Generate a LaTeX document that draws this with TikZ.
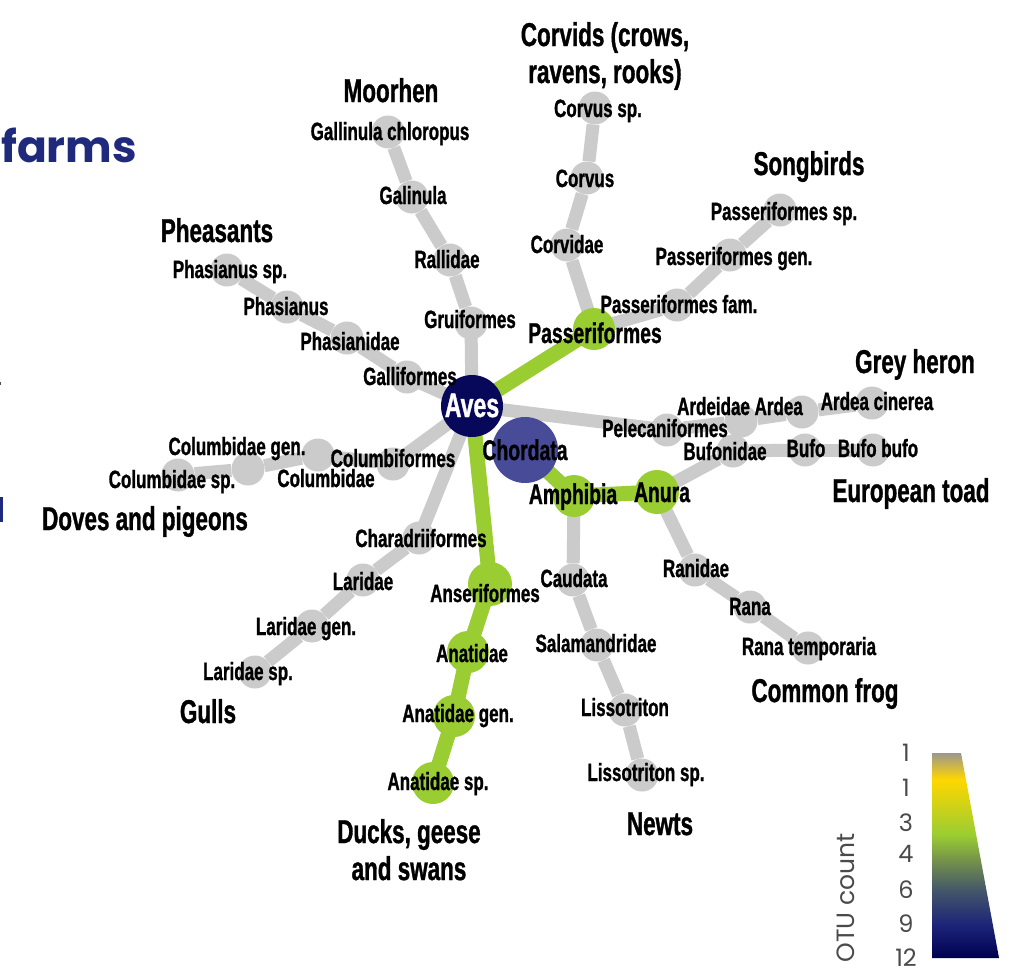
\documentclass[tikz,border=0pt]{standalone}
\usepackage{fontspec}
\newfontfamily\labfont{Liberation Sans}[FakeStretch=0.68, FakeBold=1]
\newfontfamily\headfont{Poppins}

\definecolor{edgegrey}{HTML}{CBCBCB}
\definecolor{leaf}{HTML}{9ACD32}
\definecolor{avesblue}{HTML}{08085A}
\definecolor{chordblue}{HTML}{484C98}
\definecolor{farmblue}{HTML}{1F2A7C}
\definecolor{legtext}{HTML}{4A4A4A}
% colour ramp of the OTU count scale
\definecolor{cA}{HTML}{9C978E}
\definecolor{cB}{HTML}{FFD700}
\definecolor{cC}{HTML}{9ACD32}
\definecolor{cD}{HTML}{76934A}
\definecolor{cE}{HTML}{43566A}
\definecolor{cF}{HTML}{1C2478}
\definecolor{cG}{HTML}{000050}
\pgfdeclareverticalshading{otuscale}{100bp}{color(0bp)=(cG); color(25bp)=(cG); color(33bp)=(cF); color(41.5bp)=(cE); color(49bp)=(cD); color(55bp)=(cC); color(68.5bp)=(cB); color(75bp)=(cA); color(100bp)=(cA)}

% connectors go on a layer under the discs
\pgfdeclarelayer{edges}
\pgfsetlayers{edges,main}

\tikzset{
  greydisc/.style={circle, fill=edgegrey, inner sep=0pt, minimum size=33pt},
  greendisc/.style={circle, fill=leaf, inner sep=0pt, minimum size=42pt},
  gedge/.style={draw=edgegrey, line width=13pt},
  ledge/.style={draw=leaf, line width=15pt},
  lab/.style={anchor=base, inner sep=0pt, font=\labfont\bfseries\fontsize{25}{25}\selectfont},
  midlab/.style={lab, font=\labfont\bfseries\fontsize{28.5}{28.5}\selectfont},
  grouplab/.style={anchor=base, inner sep=0pt, align=center, font=\labfont\bfseries\fontsize{33}{37}\selectfont},
  legnum/.style={anchor=center, inner sep=0pt, text=legtext, font=\headfont\fontsize{24}{24}\selectfont},
}

\begin{document}
\begin{tikzpicture}[x=1pt,y=-1pt]
\useasboundingbox (0,0) rectangle (1035,978);
\begin{pgfonlayer}{edges}
\fill[white] (0,0) rectangle (1035,978);
\end{pgfonlayer}

% fragments of the page heading at the left edge
\node[anchor=base west, inner sep=0pt, text=farmblue, font=\headfont\bfseries\fontsize{44}{44}\selectfont] (heading) at (1,162) {farms};
\fill[farmblue] (0,497) rectangle (2.5,522);
\fill[black!70] (0,382) rectangle (1.2,385);

% ---------- discs ----------
\node[circle, fill=chordblue, inner sep=0pt, minimum size=66pt] (chordata) at (525,450) {};
\node[greendisc] (amphibia) at (574,496) {};
\node[greendisc, minimum size=44pt] (anura) at (657,492) {};
\node[greendisc] (passeriformes) at (594,329) {};
\node[greendisc, minimum size=44pt] (anseriformes) at (490,584) {};
\node[greendisc] (anatidae) at (468,652) {};
\node[greendisc] (anatidaegen) at (454,716) {};
\node[greendisc] (anatidaesp) at (433,783) {};

\node[greydisc] (gruiformes) at (471,323) {};
\node[greydisc] (rallidae) at (450,260) {};
\node[greydisc] (galinula) at (412,197) {};
\node[greydisc] (gchloropus) at (388,132) {};

\node[greydisc] (galliformes) at (407,377) {};
\node[greydisc] (phasianidae) at (347,338) {};
\node[greydisc] (phasianus) at (287,307) {};
\node[greydisc] (phasianussp) at (227,270) {};

\node[greydisc] (columbiformes) at (393,464) {};
\node[greydisc] (columbidae) at (318,455) {};
\node[greydisc] (columbidaegen) at (248,469) {};
\node[greydisc] (columbidaesp) at (178,475) {};

\node[greydisc] (charadriiformes) at (419,538) {};
\node[greydisc] (laridae) at (363,580) {};
\node[greydisc] (laridaegen) at (312,626) {};
\node[greydisc] (laridaesp) at (255,672) {};

\node[greydisc] (corvidae) at (567,245) {};
\node[greydisc] (corvus) at (587,178) {};
\node[greydisc] (corvussp) at (595,108) {};

\node[greydisc] (passfam) at (677,305) {};
\node[greydisc] (passgen) at (730,255) {};
\node[greydisc] (passsp) at (780,210) {};

\node[greydisc] (pelecaniformes) at (667,430) {};
\node[greydisc] (ardeidae) at (741,421) {};
\node[greydisc] (ardea) at (802,412) {};
\node[greydisc] (ardeacinerea) at (872,403) {};

\node[greydisc] (bufonidae) at (733,451) {};
\node[greydisc] (bufo) at (805,450) {};
\node[greydisc] (bufobufo) at (873,450) {};

\node[greydisc] (ranidae) at (695,570) {};
\node[greydisc] (rana) at (750,607) {};
\node[greydisc] (ranatemporaria) at (808,648) {};

\node[greydisc] (caudata) at (573,580) {};
\node[greydisc] (salamandridae) at (597,645) {};
\node[greydisc] (lissotriton) at (625,710) {};
\node[greydisc] (lissotritonsp) at (642,775) {};

\node[circle, fill=avesblue, inner sep=0pt, minimum size=62pt] (aves) at (472,406) {};

% ---------- connectors (behind the discs) ----------
\begin{pgfonlayer}{edges}
  % birds
  \draw[ledge] (aves.center) -- (passeriformes.center);
  \draw[ledge] (aves.center) -- (anseriformes.center);
  \draw[ledge] (anseriformes.center) -- (anatidae.center);
  \draw[ledge] (anatidae.center) -- (anatidaegen.center);
  \draw[ledge] (anatidaegen.center) -- (anatidaesp.center);
  \draw[gedge] (aves.center) -- (gruiformes.center);
  \draw[gedge] (gruiformes) -- (rallidae);
  \draw[gedge] (rallidae) -- (galinula);
  \draw[gedge] (galinula) -- (gchloropus);
  \draw[gedge] (aves.center) -- (galliformes.center);
  \draw[gedge] (galliformes) -- (phasianidae);
  \draw[gedge] (phasianidae) -- (phasianus);
  \draw[gedge] (phasianus) -- (phasianussp);
  \draw[gedge] (aves.center) -- (columbiformes.center);
  \draw[gedge] (columbiformes) -- (columbidae);
  \draw[gedge] (columbidae) -- (columbidaegen);
  \draw[gedge] (columbidaegen) -- (columbidaesp);
  \draw[gedge] (aves.center) -- (charadriiformes.center);
  \draw[gedge] (charadriiformes) -- (laridae);
  \draw[gedge] (laridae) -- (laridaegen);
  \draw[gedge] (laridaegen) -- (laridaesp);
  \draw[gedge] (passeriformes.center) -- (corvidae);
  \draw[gedge] (corvidae) -- (corvus);
  \draw[gedge] (corvus) -- (corvussp);
  \draw[gedge] (passeriformes.center) -- (passfam);
  \draw[gedge] (passfam) -- (passgen);
  \draw[gedge] (passgen) -- (passsp);
  \draw[gedge] (aves.center) -- (pelecaniformes.center);
  \draw[gedge] (pelecaniformes) -- (ardeidae);
  \draw[gedge] (ardeidae) -- (ardea);
  \draw[gedge] (ardea) -- (ardeacinerea);
  % amphibians
  \draw[ledge] (chordata.center) -- (amphibia.center);
  \draw[ledge] (amphibia.center) -- (anura.center);
  \draw[gedge] (anura.center) -- (bufonidae);
  \draw[gedge] (bufonidae) -- (bufo);
  \draw[gedge] (bufo) -- (bufobufo);
  \draw[gedge] (anura.center) -- (ranidae);
  \draw[gedge] (ranidae) -- (rana);
  \draw[gedge] (rana) -- (ranatemporaria);
  \draw[gedge] (amphibia.center) -- (caudata);
  \draw[gedge] (caudata) -- (salamandridae);
  \draw[gedge] (salamandridae) -- (lissotriton);
  \draw[gedge] (lissotriton) -- (lissotritonsp);
\end{pgfonlayer}

% ---------- labels ----------
\node[lab, text=white, font=\labfont\bfseries\fontsize{34}{34}\selectfont] (t-aves) at (472,417) {Aves};
\node[midlab] (t-chordata) at (525,460) {Chordata};
\node[midlab] (t-amphibia) at (573,504) {Amphibia};
\node[midlab] (t-anura) at (662,502) {Anura};
\node[midlab] (t-passeriformes) at (595,343) {Passeriformes};

\node[lab] (t-gruiformes) at (470,328) {Gruiformes};
\node[lab] (t-rallidae) at (447,268) {Rallidae};
\node[lab] (t-galinula) at (413,204) {Galinula};
\node[lab] (t-gchloropus) at (390,140) {Gallinula chloropus};

\node[lab] (t-galliformes) at (410,385) {Galliformes};
\node[lab] (t-phasianidae) at (350,350) {Phasianidae};
\node[lab] (t-phasianus) at (286,315) {Phasianus};
\node[lab] (t-phasianussp) at (230,278) {Phasianus sp.};

\node[lab] (t-columbiformes) at (393,467) {Columbiformes};
\node[lab] (t-columbidae) at (326,487) {Columbidae};
\node[lab] (t-columbidaegen) at (237,455) {Columbidae gen.};
\node[lab] (t-columbidaesp) at (172,488) {Columbidae sp.};

\node[lab] (t-charadriiformes) at (421,547) {Charadriiformes};
\node[lab] (t-laridae) at (363,590) {Laridae};
\node[lab] (t-laridaegen) at (306,635) {Laridae gen.};
\node[lab] (t-laridaesp) at (248,680) {Laridae sp.};

\node[lab] (t-anseriformes) at (485,602) {Anseriformes};
\node[lab] (t-anatidae) at (472,662) {Anatidae};
\node[lab] (t-anatidaegen) at (458,722) {Anatidae gen.};
\node[lab] (t-anatidaesp) at (438,790) {Anatidae sp.};

\node[lab] (t-corvidae) at (567,253) {Corvidae};
\node[lab] (t-corvus) at (585,187) {Corvus};
\node[lab] (t-corvussp) at (598,117) {Corvus sp.};

\node[lab] (t-passfam) at (679,313) {Passeriformes fam.};
\node[lab] (t-passgen) at (734,265) {Passeriformes gen.};
\node[lab] (t-passsp) at (784,220) {Passeriformes sp.};

\node[lab] (t-pelecaniformes) at (665,437) {Pelecaniformes};
\node[lab] (t-ardeidae) at (740,415) {Ardeidae Ardea};
\node[lab] (t-ardeacinerea) at (877,410) {Ardea cinerea};

\node[lab] (t-bufonidae) at (725,460) {Bufonidae};
\node[lab] (t-bufo) at (806,457) {Bufo};
\node[lab] (t-bufobufo) at (878,457) {Bufo bufo};

\node[lab] (t-ranidae) at (696,577) {Ranidae};
\node[lab] (t-rana) at (750,615) {Rana};
\node[lab] (t-ranatemporaria) at (809,655) {Rana temporaria};

\node[lab] (t-caudata) at (574,587) {Caudata};
\node[lab] (t-salamandridae) at (596,652) {Salamandridae};
\node[lab] (t-lissotriton) at (625,716) {Lissotriton};
\node[lab] (t-lissotritonsp) at (646,781) {Lissotriton sp.};

% ---------- group names (base = last line) ----------
\node[grouplab] (g-corvids) at (605,83) {Corvids (crows,\\ravens, rooks)};
\node[grouplab] (g-moorhen) at (391,102) {Moorhen};
\node[grouplab] (g-songbirds) at (809,175) {Songbirds};
\node[grouplab] (g-pheasants) at (217,242) {Pheasants};
\node[grouplab] (g-heron) at (915,373) {Grey heron};
\node[grouplab] (g-toad) at (911,502) {European toad};
\node[grouplab] (g-doves) at (145,530) {Doves and pigeons};
\node[grouplab] (g-frog) at (825,702) {Common frog};
\node[grouplab] (g-gulls) at (208,723) {Gulls};
\node[grouplab] (g-newts) at (660,835) {Newts};
\node[grouplab] (g-ducks) at (409,880) {Ducks, geese\\and swans};

% ---------- OTU count scale ----------
\shade[shading=otuscale] (932,753) -- (961,753) -- (999,958) -- (932,958) -- cycle;
\node[legnum] (s1) at (906,753) {1};
\node[legnum] (s2) at (906,788) {1};
\node[legnum] (s3) at (906,823) {3};
\node[legnum] (s4) at (906,854) {4};
\node[legnum] (s5) at (906,890) {6};
\node[legnum] (s6) at (906,924) {9};
\node[legnum] (s7) at (906,958) {12};
\node[rotate=90, inner sep=0pt, text=legtext, font=\headfont\fontsize{25}{25}\selectfont] (otu) at (846,898) {OTU count};
\end{tikzpicture}
\end{document}
